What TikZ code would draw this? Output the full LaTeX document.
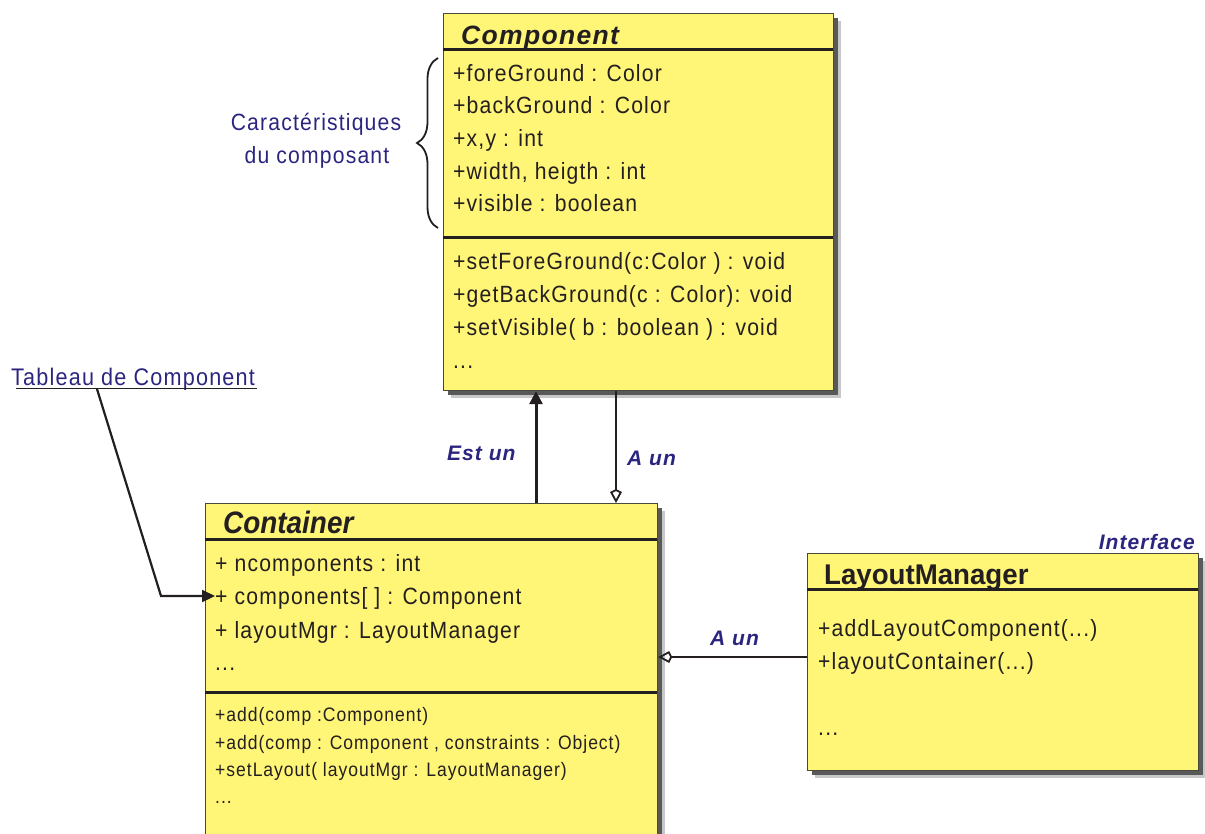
\documentclass[tikz,border=0pt]{standalone}
\usepackage{fontspec}
\setmainfont{Liberation Sans}
\newfontfamily\bodyf{Liberation Sans}[FakeStretch=0.9,LetterSpace=5]
\newfontfamily\condf{Liberation Sans}[FakeStretch=0.9]
\newfontfamily\spacedf{Liberation Sans}[LetterSpace=5]
\newfontfamily\lmf{Liberation Sans}[FakeStretch=0.97]
\usetikzlibrary{arrows.meta,shadows,decorations.pathreplacing,calc}
\definecolor{umlyellow}{HTML}{FFF577}
\definecolor{ink}{HTML}{231F20}
\definecolor{labelblue}{HTML}{2B2580}
\definecolor{boxline}{HTML}{4A4A3A}
\begin{document}
\begin{tikzpicture}[x=1pt,y=-1pt,
  umlbox/.style={draw=boxline, line width=1.2pt, fill=umlyellow, rectangle, anchor=north west, inner sep=0pt,
     drop shadow={shadow xshift=7pt,shadow yshift=-7pt,fill=black!22,opacity=1},
     drop shadow={shadow xshift=4.5pt,shadow yshift=-4.5pt,fill=black!65,opacity=1}},
  sepline/.style={draw=ink, line width=3pt},
  attr/.style={inner sep=0pt, anchor=base west, text=ink, font=\bodyf\fontsize{23.5}{28}\selectfont},
  smallattr/.style={inner sep=0pt, anchor=base west, text=ink, font=\bodyf\fontsize{19.5}{24}\selectfont},
  lbl/.style={inner sep=0pt, anchor=base west, text=labelblue, font=\spacedf\bfseries\itshape\fontsize{21}{25}\selectfont},
  note/.style={inner sep=0pt, text=labelblue, font=\bodyf\fontsize{23.5}{28}\selectfont},
  isa/.style={draw=ink, line width=3pt, -{Triangle[length=13pt 0,width=13pt 0]}},
  hasa/.style={draw=ink, line width=1.8pt, -{Kite[open,length=14pt 0,width=12pt 0,inset=3pt 0]}},
  ptr/.style={draw=ink, line width=2.2pt, -{Triangle[length=13pt 0,width=12pt 0]}},
]
\useasboundingbox (0,0) rectangle (1205,833);
\begin{scope}
\clip (0,0) rectangle (1205,833);
% boxes
\node[umlbox, minimum width=390pt, minimum height=377pt] (comp) at (443,13) {};
\node[umlbox, minimum width=452pt, minimum height=345pt] (cont) at (205,503) {};
\node[umlbox, minimum width=391pt, minimum height=217pt] (lm) at (807,553) {};
\end{scope}
% separators
\draw[sepline] (443,49) -- (833,49);
\draw[sepline] (443,237) -- (833,237);
\draw[sepline] (205,539) -- (657,539);
\draw[sepline] (205,692) -- (657,692);
\draw[sepline] (807,589) -- (1198,589);
% titles
\node[inner sep=0pt, anchor=base west, text=ink, font=\spacedf\bfseries\itshape\fontsize{26.5}{30}\selectfont] (compT) at (461,44) {Component};
\node[inner sep=0pt, anchor=base west, text=ink, font=\condf\bfseries\itshape\fontsize{31}{36}\selectfont] (contT) at (223,533) {Container};
\node[inner sep=0pt, anchor=base west, text=ink, font=\lmf\bfseries\fontsize{28.5}{33}\selectfont] (lmT) at (824,584) {LayoutManager};
\node[lbl, anchor=base east] (iface) at (1195,549) {Interface};
% Component attributes
\node[attr] (ca1) at (453,81) {+foreGround : Color};
\node[attr] (ca2) at (453,113.5) {+backGround : Color};
\node[attr] (ca3) at (453,146) {+x,y : int};
\node[attr] (ca4) at (453,179) {+width, heigth : int};
\node[attr] (ca5) at (453,211) {+visible : boolean};
\node[attr] (cm1) at (453,269) {+setForeGround(c:Color ) : void};
\node[attr] (cm2) at (453,302) {+getBackGround(c : Color): void};
\node[attr] (cm3) at (453,335) {+setVisible( b : boolean ) : void};
\node[attr] (cm4) at (453,368) {...};
% Container
\node[attr] (ka1) at (215,571) {+ ncomponents : int};
\node[attr] (ka2) at (215,604) {+ components[ ] : Component};
\node[attr] (ka3) at (215,638) {+ layoutMgr : LayoutManager};
\node[attr] (ka4) at (215,670) {...};
\node[smallattr] (km1) at (215,721) {+add(comp :Component)};
\node[smallattr] (km2) at (215,749) {+add(comp : Component , constraints : Object)};
\node[smallattr] (km3) at (215,776) {+setLayout( layoutMgr : LayoutManager)};
\node[smallattr] (km4) at (215,803) {...};
% LayoutManager
\node[attr] (lm1) at (818,636) {+addLayoutComponent(...)};
\node[attr] (lm2) at (818,669) {+layoutContainer(...)};
\node[attr] (lm3) at (818,735) {...};
% notes
\node[note, anchor=base] (car1) at (316,130) {Caractéristiques};
\node[note, anchor=base] (car2) at (317,163) {du composant};
\draw[ink, line width=1.8pt, decorate, decoration={brace, amplitude=21pt, aspect=0.5}] (438,228) -- (438,58);
\node[note, anchor=base west, font=\bodyf\fontsize{24}{28}\selectfont] (tab) at (11,385) {Tableau de Component};
\draw[ink, line width=1.5pt] (16,388.5) -- (257,388.5);
\coordinate (tabpt) at (97,389);
\coordinate (tabbend) at (161,596);
\draw[ptr] (tabpt) -- (tabbend) -- (tabbend -| ka2.west);
% relations
\coordinate (isx) at (536,0);
\coordinate (hasx) at (616,0);
\coordinate (hasy) at (0,657);
\draw[isa] (cont.north -| isx) -- (comp.south -| isx);
\draw[hasa] (comp.south -| hasx) -- (cont.north -| hasx);
\draw[hasa] (lm.west |- hasy) -- (cont.east |- hasy);
\node[lbl] (est) at (447,460) {Est un};
\node[lbl] (aun1) at (627,465) {A un};
\node[lbl] (aun2) at (710,645) {A un};
\end{tikzpicture}
\end{document}
